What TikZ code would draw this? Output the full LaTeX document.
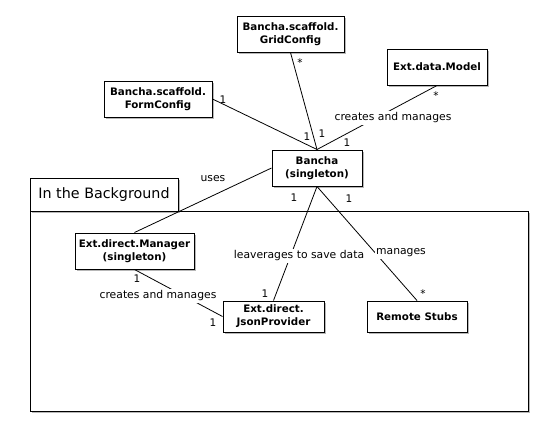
\documentclass[tikz,border=0pt]{standalone}
\usepackage{fontspec}
\setmainfont{DejaVu Sans}
\usetikzlibrary{shadows}
\begin{document}
\begin{tikzpicture}[x=1pt,y=-1pt,
  cls/.style={draw=black, line width=1pt, fill=white, font=\fontsize{10.3}{13}\selectfont\bfseries, align=center, inner sep=0pt,
    drop shadow={shadow xshift=1.5pt, shadow yshift=-2pt, opacity=0.4, fill=black!70}},
  pkg/.style={draw=black, line width=1pt, fill=white, inner sep=0pt,
    drop shadow={shadow xshift=1.5pt, shadow yshift=-2pt, opacity=0.4, fill=black!70}},
  conn/.style={draw=black, line width=0.8pt},
  lbl/.style={font=\fontsize{10.8}{13}\selectfont, inner sep=1pt},
  lblw/.style={lbl, fill=white, inner sep=1.5pt},
  mult/.style={font=\fontsize{10.5}{12}\selectfont, inner sep=0pt}]
\useasboundingbox (0,0) rectangle (558,445);
% package
\node[pkg, minimum width=498pt, minimum height=200pt] (body) at (279,311) {};
\node[pkg, minimum width=148pt, minimum height=33pt, font=\fontsize{14.3}{17}\selectfont] (tab) at (104,194.5) {In the Background};
% classes
\node[cls, minimum width=107pt, minimum height=36pt] (grid) at (290.5,34) {Bancha.scaffold.\\GridConfig};
\node[cls, minimum width=100pt, minimum height=36pt] (model) at (437,67) {Ext.data.Model};
\node[cls, minimum width=108pt, minimum height=36pt] (form) at (158,99) {Bancha.scaffold.\\FormConfig};
\node[cls, minimum width=90pt, minimum height=36pt] (bancha) at (317,168) {Bancha\\(singleton)};
\node[cls, minimum width=119pt, minimum height=36pt] (manager) at (134.5,251) {Ext.direct.Manager\\(singleton)};
\node[cls, minimum width=101pt, minimum height=31pt] (json) at (273.5,316.5) {Ext.direct.\\JsonProvider};
\node[cls, minimum width=100pt, minimum height=31pt] (stubs) at (417,316.5) {Remote Stubs};
% connectors
\draw[conn] (form.east) -- (bancha.north);
\draw[conn] (grid.south) -- (bancha.north);
\draw[conn] (model.south) -- (bancha.north);
\draw[conn] (bancha.west) -- (manager.north);
\draw[conn] (bancha.south) -- (json.north);
\draw[conn] (bancha.south) -- (stubs.north);
\draw[conn] (manager.south) -- (json.west);
% labels
\node[lblw] (l1) at (393,118) {creates and manages};
\node[lbl] (l2) at (213,179) {uses};
\node[lblw] (l3) at (299,256) {leaverages to save data};
\node[lblw] (l4) at (401,253) {manages};
\node[lblw] (l5) at (158,296) {creates and manages};
% multiplicities
\node[mult] (m1) at (223,100) {1};
\node[mult] (m2) at (300,63) {*};
\node[mult] (m3) at (307,137) {1};
\node[mult] (m4) at (322,134) {1};
\node[mult] (m5) at (347,143) {1};
\node[mult] (m6) at (436,96) {*};
\node[mult] (m7) at (294,198) {1};
\node[mult] (m8) at (349,199) {1};
\node[mult] (m9) at (423,294) {*};
\node[mult] (m10) at (265,294) {1};
\node[mult] (m11) at (137,279) {1};
\node[mult] (m12) at (213,323) {1};
\end{tikzpicture}
\end{document}
